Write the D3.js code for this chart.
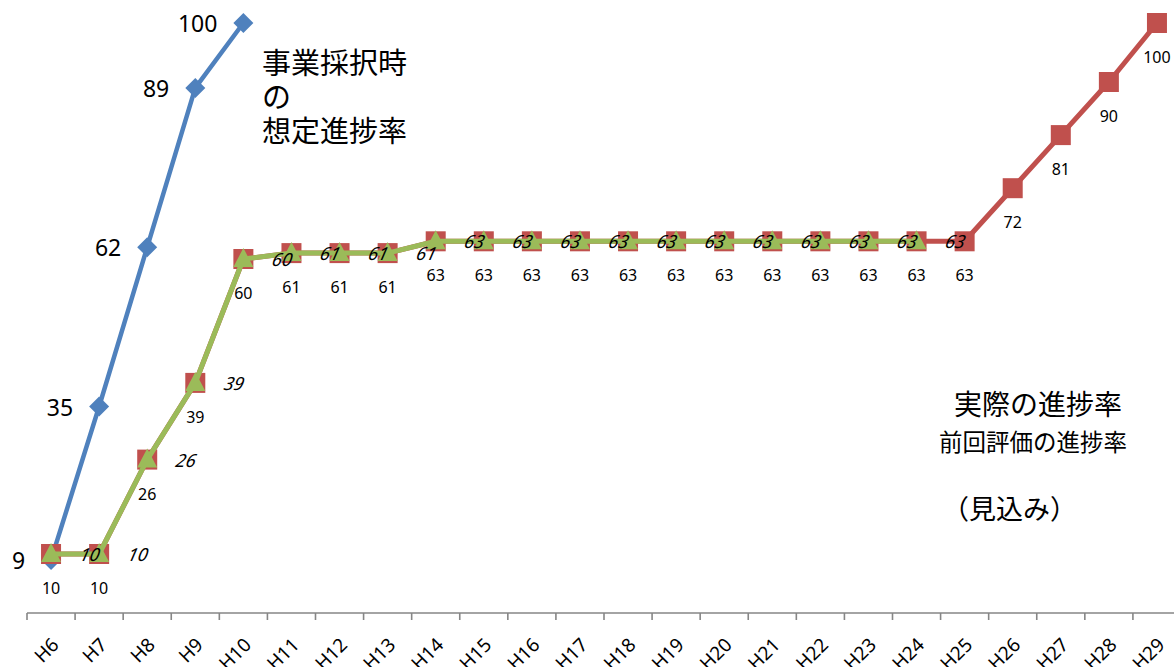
<!DOCTYPE html>
<html>
<head>
<meta charset="utf-8">
<script src="https://cdn.jsdelivr.net/npm/d3@7/dist/d3.min.js"></script>
<style>
  html, body { margin: 0; padding: 0; background: #fff; }
  svg { display: block; }
</style>
</head>
<body>
<svg id="chart" width="1174" height="667"></svg>
<script>
const categories = ["H6","H7","H8","H9","H10","H11","H12","H13","H14","H15","H16","H17","H18","H19","H20","H21","H22","H23","H24","H25","H26","H27","H28","H29"];
// 事業採択時の想定進捗率
const planned = [9,35,62,89,100,null,null,null,null,null,null,null,null,null,null,null,null,null,null,null,null,null,null,null];
// 実際の進捗率（見込み）
const actual = [10,10,26,39,60,61,61,61,63,63,63,63,63,63,63,63,63,63,63,63,72,81,90,100];
// 前回評価の進捗率
const previous = [10,10,26,39,60,61,61,61,63,63,63,63,63,63,63,63,63,63,63,null,null,null,null,null];
const plannedTitle = ["事業採択時", "の", "想定進捗率"];

const svg = d3.select("#chart");
const numFont = "'Noto Sans', 'Open Sans', sans-serif";
const jpFont = "'Noto Sans CJK JP', sans-serif";

const x = d3.scaleBand().domain(categories).range([27, 1181]).paddingInner(0).paddingOuter(0);
const y = d3.scaleLinear().domain([0, 100]).range([613, 23]);
const cx = c => x(c) + x.bandwidth() / 2;

// axis
const axisY = y(0);
svg.append("line")
  .attr("x1", x.range()[0]).attr("x2", x.range()[1])
  .attr("y1", axisY).attr("y2", axisY)
  .attr("stroke", "#868686").attr("stroke-width", 1.6);
const tickPos = categories.map(c => x(c)).concat([x.range()[1]]);
svg.selectAll(".tick").data(tickPos).enter().append("line")
  .attr("x1", d => d).attr("x2", d => d)
  .attr("y1", axisY).attr("y2", axisY + 7)
  .attr("stroke", "#868686").attr("stroke-width", 1.6);
svg.selectAll(".xlabel").data(categories).enter().append("text")
  .attr("transform", c => `translate(${cx(c) + 9},${axisY + 33}) rotate(-45)`)
  .attr("text-anchor", "end")
  .attr("font-family", numFont).attr("font-size", 19).attr("fill", "#000")
  .text(c => c);

function series(values) {
  return categories.map((c, i) => ({ c, v: values[i] })).filter(d => d.v != null);
}
const line = d3.line().x(d => cx(d.c)).y(d => y(d.v));

const pPts = series(planned), aPts = series(actual), vPts = series(previous);

// planned (blue)
svg.append("path").datum(pPts).attr("d", line)
  .attr("fill", "none").attr("stroke", "#4F81BD").attr("stroke-width", 4.5).attr("stroke-linejoin", "round");
svg.selectAll(".dia").data(pPts).enter().append("path")
  .attr("d", d3.symbol().type(d3.symbolSquare).size(200))
  .attr("transform", d => `translate(${cx(d.c)},${y(d.v)}) rotate(45)`)
  .attr("fill", "#4F81BD");

// actual (red)
svg.append("path").datum(aPts).attr("d", line)
  .attr("fill", "none").attr("stroke", "#C0504D").attr("stroke-width", 5).attr("stroke-linejoin", "round");
svg.selectAll(".sq").data(aPts).enter().append("rect")
  .attr("x", d => cx(d.c) - 10).attr("y", d => y(d.v) - 10)
  .attr("width", 20).attr("height", 20).attr("fill", "#C0504D");

// previous (green)
svg.append("path").datum(vPts).attr("d", line)
  .attr("fill", "none").attr("stroke", "#9BBB59").attr("stroke-width", 5).attr("stroke-linejoin", "round");
svg.selectAll(".tri").data(vPts).enter().append("path")
  .attr("d", d => {
    const px = cx(d.c), py = y(d.v);
    return `M${px},${py - 11}L${px + 10},${py + 8}L${px - 10},${py + 8}Z`;
  })
  .attr("fill", "#9BBB59");

// labels: actual (below)
svg.selectAll(".alab").data(aPts).enter().append("text")
  .attr("x", d => cx(d.c)).attr("y", d => y(d.v) + 34)
  .attr("text-anchor", "middle").attr("dominant-baseline", "central")
  .attr("font-family", numFont).attr("font-size", 16).attr("fill", "#000")
  .text(d => d.v);

// labels: previous (right, italic)
svg.selectAll(".vlab").data(vPts).enter().append("text")
  .attr("transform", d => `translate(${cx(d.c) + 39},${y(d.v)}) skewX(-12)`)
  .attr("text-anchor", "middle").attr("dominant-baseline", "central")
  .attr("font-family", numFont).attr("font-style", "italic").attr("font-size", 18).attr("fill", "#000")
  .text(d => d.v);

// labels: planned (left)
svg.selectAll(".plab").data(pPts).enter().append("text")
  .attr("x", d => cx(d.c) - 26).attr("y", d => y(d.v))
  .attr("text-anchor", "end").attr("dominant-baseline", "central")
  .attr("font-family", numFont).attr("font-size", 23).attr("fill", "#000")
  .text(d => d.v);

// multi-line planned title
const t1 = svg.append("text")
  .attr("x", 262).attr("y", 74)
  .attr("font-family", jpFont).attr("font-size", 29).attr("fill", "#000");
t1.selectAll("tspan").data(plannedTitle).enter().append("tspan")
  .attr("x", 262).attr("dy", (d, i) => i === 0 ? 0 : 34)
  .text(d => d);

// annotations
const ann = [
  { t: "実際の進捗率", x: 954, y: 403, s: 28 },
  { t: "前回評価の進捗率", x: 939, y: 441, s: 23.5 },
  { t: "（見込み）", x: 942, y: 507, s: 27 }
];
svg.selectAll(".ann").data(ann).enter().append("text")
  .attr("x", d => d.x).attr("y", d => d.y)
  .attr("dominant-baseline", "central")
  .attr("font-family", jpFont).attr("font-size", d => d.s).attr("fill", "#000")
  .text(d => d.t);
</script>
</body>
</html>
